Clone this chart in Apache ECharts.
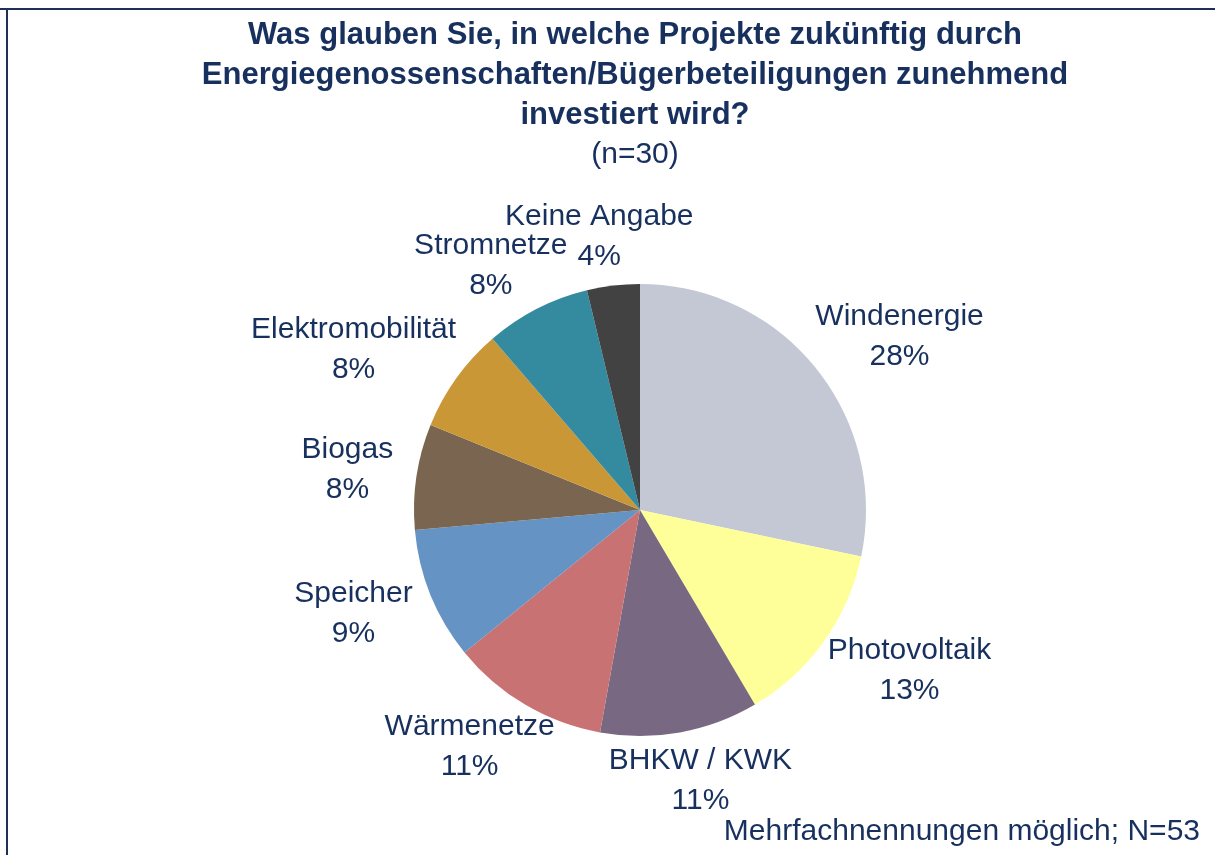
<!DOCTYPE html>
<html>
<head>
<meta charset="utf-8">
<title>Energiegenossenschaften</title>
<script src="https://cdn.jsdelivr.net/npm/echarts@6/dist/echarts.min.js"></script>
<style>
  html, body { margin: 0; padding: 0; background: #fff; }
  #chart { width: 1215px; height: 855px; }
</style>
</head>
<body>
<div id="chart"></div>
<script>
// Nennungen je Projektart (N=53), im Uhrzeigersinn ab 12 Uhr
var categories = ['Windenergie', 'Photovoltaik', 'BHKW / KWK', 'Wärmenetze', 'Speicher',
  'Biogas', 'Elektromobilität', 'Stromnetze', 'Keine Angabe'];
var counts = [15, 7, 6, 6, 5, 4, 4, 4, 2];
var colors = ['#C3C8D4', '#FFFF99', '#786882', '#C87273', '#6593C4',
  '#7A6650', '#C99735', '#348BA0', '#424242'];

var navy = '#17305E';
var cx = 640, cy = 510, radius = 226;
// Abstand der Beschriftung vom Mittelpunkt (Excel-artig: Kasten liegt am Rand an)
var labelRx = 250, labelRy = 235;

var total = counts.reduce(function (a, b) { return a + b; }, 0);
var midAngles = [];
var acc = 0;
counts.forEach(function (v) {
  midAngles.push((acc + v / 2) / total * 2 * Math.PI);
  acc += v;
});

var chart = echarts.init(document.getElementById('chart'));
var option = {
  backgroundColor: '#fff',
  animation: false,
  title: [{
    text: 'Was glauben Sie, in welche Projekte zukünftig durch\nEnergiegenossenschaften/Bügerbeteiligungen zunehmend\ninvestiert wird?',
    left: 635,
    top: 15,
    padding: 0,
    textAlign: 'center',
    textStyle: {
      color: navy,
      fontFamily: 'Liberation Sans',
      fontWeight: 'bold',
      fontSize: 31,
      lineHeight: 40
    }
  }, {
    text: '(n=30)',
    left: 635,
    top: 135,
    padding: 0,
    textAlign: 'center',
    textStyle: {
      color: navy,
      fontFamily: 'Liberation Sans',
      fontWeight: 'normal',
      fontSize: 30,
      lineHeight: 40
    }
  }, {
    text: 'Mehrfachnennungen möglich; N=53',
    right: 15,
    bottom: 3,
    padding: 0,
    textStyle: {
      color: navy,
      fontFamily: 'Liberation Sans',
      fontWeight: 'normal',
      fontSize: 30,
      lineHeight: 40
    }
  }],
  graphic: [{
    type: 'line',
    shape: { x1: 0, y1: 9, x2: 1215, y2: 9 },
    style: { stroke: '#1F2F5A', lineWidth: 2 }
  }, {
    type: 'line',
    shape: { x1: 7, y1: 9, x2: 7, y2: 855 },
    style: { stroke: '#1F2F5A', lineWidth: 2 }
  }],
  series: [{
    type: 'pie',
    center: [cx, cy],
    radius: radius,
    startAngle: 90,
    clockwise: true,
    percentPrecision: 0,
    avoidLabelOverlap: false,
    itemStyle: { borderWidth: 0 },
    emphasis: { disabled: true },
    label: {
      show: true,
      position: 'outside',
      formatter: '{b}\n{d}%',
      color: navy,
      fontFamily: 'Liberation Sans',
      fontSize: 30,
      lineHeight: 40
    },
    labelLine: { show: false },
    labelLayout: function (params) {
      var a = midAngles[params.dataIndex];
      var s = Math.sin(a), c = Math.cos(a);
      var w = params.labelRect.width, h = params.labelRect.height;
      return {
        x: cx + s * (labelRx + w / 2),
        y: cy - c * (labelRy + h / 2),
        align: 'center',
        verticalAlign: 'middle'
      };
    },
    data: categories.map(function (name, i) {
      return { name: name, value: counts[i], itemStyle: { color: colors[i] } };
    })
  }]
};
chart.setOption(option);
</script>
</body>
</html>
